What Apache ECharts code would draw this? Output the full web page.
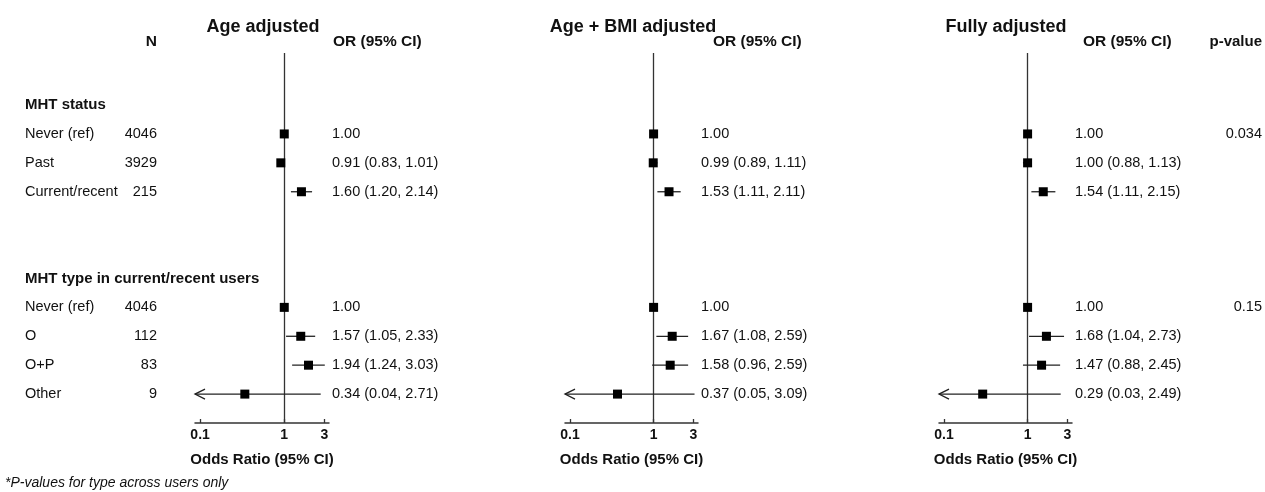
<!DOCTYPE html>
<html>
<head>
<meta charset="utf-8">
<script src="https://cdn.jsdelivr.net/npm/echarts@6/dist/echarts.min.js"></script>
<style>
html,body{margin:0;padding:0;background:#fff;}
#chart{width:1265px;height:492px;}
</style>
</head>
<body>
<div id="chart"></div>
<script>
// ---------- data ----------
const rowLabels = ['MHT status','Never (ref)','Past','Current/recent','','','MHT type in current/recent users','Never (ref)','O','O+P','Other'];
const headerRows = [true,false,false,false,false,false,true,false,false,false,false];
const nValues = [null,4046,3929,215,null,null,null,4046,112,83,9];

const panelTitles = ['Age adjusted','Age + BMI adjusted','Fully adjusted'];

const ageOR = [null,1.00,0.91,1.60,null,null,null,1.00,1.57,1.94,0.34];
const ageLo = [null,null,0.83,1.20,null,null,null,null,1.05,1.24,0.04];
const ageHi = [null,null,1.01,2.14,null,null,null,null,2.33,3.03,2.71];

const bmiOR = [null,1.00,0.99,1.53,null,null,null,1.00,1.67,1.58,0.37];
const bmiLo = [null,null,0.89,1.11,null,null,null,null,1.08,0.96,0.05];
const bmiHi = [null,null,1.11,2.11,null,null,null,null,2.59,2.59,3.09];

const fullOR = [null,1.00,1.00,1.54,null,null,null,1.00,1.68,1.47,0.29];
const fullLo = [null,null,0.88,1.11,null,null,null,null,1.04,0.88,0.03];
const fullHi = [null,null,1.13,2.15,null,null,null,null,2.73,2.45,2.49];

const pValues = [null,'0.034',null,null,null,null,null,'0.15',null,null,null];

const xTicks = [0.1, 1, 3];
const refValue = 1;
const axisTitle = 'Odds Ratio (95% CI)';
const headerN = 'N';
const headerOR = 'OR (95% CI)';
const headerP = 'p-value';
const footnote = '*P-values for type across users only';

// ---------- layout / style ----------
const FONT = "'Liberation Sans', Arial, sans-serif";
const X_MIN = 0.087, X_MAX = 3.4;
const Y_MIN = -1.8, Y_MAX = 11;
const grids = [
  {left:195, width:134, top:53, bottom:69},
  {left:565, width:133, top:53, bottom:69},
  {left:939, width:133, top:53, bottom:69}
];
const titleX = [263, 633, 1006];
const orHeaderX = [333, 713, 1083];
const panels = [
  {or: ageOR, lo: ageLo, hi: ageHi},
  {or: bmiOR, lo: bmiLo, hi: bmiHi},
  {or: fullOR, lo: fullLo, hi: fullHi}
];

function fmt(v){ return v.toFixed(2); }

function makeRender(p, k) {
  return function (params, api) {
    const i = params.dataIndex;
    const cs = params.coordSys;
    const children = [];
    const y = api.coord([refValue, i])[1];
    // row labels + N (first panel only)
    if (k === 0) {
      if (rowLabels[i]) {
        children.push({type:'text', style:{x:25, y:y, text:rowLabels[i], fill:'#111',
          font:(headerRows[i] ? 'bold 15px ' : '14.5px ') + FONT, verticalAlign:'middle', align:'left'}});
      }
      if (nValues[i] != null) {
        children.push({type:'text', style:{x:157, y:y, text:String(nValues[i]), fill:'#111',
          font:'14.5px ' + FONT, verticalAlign:'middle', align:'right'}});
      }
    }
    if (k === 2 && pValues[i] != null) {
      children.push({type:'text', style:{x:1262, y:y, text:pValues[i], fill:'#111',
        font:'14.5px ' + FONT, verticalAlign:'middle', align:'right'}});
    }
    const or = p.or[i];
    if (or != null) {
      const lo = p.lo[i], hi = p.hi[i];
      let txt = fmt(or);
      if (lo != null) {
        const clipped = lo < X_MIN;
        const x1 = clipped ? cs.x : api.coord([lo, i])[0];
        const x2 = api.coord([hi, i])[0];
        children.push({type:'line', shape:{x1:x1, y1:y, x2:x2, y2:y},
          style:{stroke:'#222', lineWidth:1.3}});
        if (clipped) {
          children.push({type:'polyline', shape:{points:[[x1+10, y-5],[x1, y],[x1+10, y+5]]},
            style:{stroke:'#222', fill:null, lineWidth:1.3}});
        }
        txt += ' (' + fmt(lo) + ', ' + fmt(hi) + ')';
      }
      const c = api.coord([or, i]);
      children.push({type:'rect', shape:{x:c[0]-4.5, y:y-4.5, width:9, height:9}, style:{fill:'#000'}});
      children.push({type:'text', style:{x:cs.x + cs.width + 3, y:y, text:txt, fill:'#111',
        font:'14.5px ' + FONT, verticalAlign:'middle', align:'left'}});
    }
    return {type:'group', children:children};
  };
}

const xAxes = grids.map((g, k) => ({
  type:'log', logBase:10, gridIndex:k, min:X_MIN, max:X_MAX, position:'bottom',
  axisLine:{show:true, onZero:false, lineStyle:{color:'#333', width:1.5}},
  axisTick:{show:true, inside:true, length:4, customValues:xTicks, lineStyle:{color:'#333', width:1.3}},
  axisLabel:{show:true, customValues:xTicks, margin:5, color:'#111', fontWeight:'bold', fontSize:14, fontFamily:FONT,
    formatter: v => String(+v.toPrecision(3))},
  splitLine:{show:false}, minorTick:{show:false},
  name:axisTitle, nameLocation:'middle', nameGap:29,
  nameTextStyle:{color:'#111', fontWeight:'bold', fontSize:15, fontFamily:FONT}
}));
const yAxes = grids.map((g, k) => ({
  type:'value', gridIndex:k, min:Y_MIN, max:Y_MAX, inverse:true, show:false
}));

const series = [];
panels.forEach((p, k) => {
  series.push({
    type:'line', xAxisIndex:k, yAxisIndex:k, data:[], silent:true, z:1,
    markLine:{silent:true, symbol:['none','none'], label:{show:false},
      lineStyle:{color:'#333', width:1.3, type:'solid'},
      data:[{xAxis:refValue}]}
  });
  series.push({
    type:'custom', xAxisIndex:k, yAxisIndex:k, z:5, silent:true,
    renderItem: makeRender(p, k),
    data: rowLabels.map((_, i) => [p.or[i] != null ? p.or[i] : refValue, i]),
    encode:{x:0, y:1}
  });
});

const graphics = [];
panelTitles.forEach((t, k) => {
  graphics.push({type:'text', x:titleX[k], y:27, style:{text:t, font:'bold 18px ' + FONT, fill:'#111', align:'center', verticalAlign:'middle'}});
  graphics.push({type:'text', x:orHeaderX[k], y:42, style:{text:headerOR, font:'bold 15.5px ' + FONT, fill:'#111', align:'left', verticalAlign:'middle'}});
});
graphics.push({type:'text', x:157, y:42, style:{text:headerN, font:'bold 15.5px ' + FONT, fill:'#111', align:'right', verticalAlign:'middle'}});
graphics.push({type:'text', x:1262, y:42, style:{text:headerP, font:'bold 15px ' + FONT, fill:'#111', align:'right', verticalAlign:'middle'}});
graphics.push({type:'text', x:5, y:483, style:{text:footnote, font:'italic 14px ' + FONT, fill:'#111', align:'left', verticalAlign:'middle'}});

const chart = echarts.init(document.getElementById('chart'), null, {renderer:'canvas'});
chart.setOption({
  animation:false,
  backgroundColor:'#fff',
  grid: grids,
  xAxis: xAxes,
  yAxis: yAxes,
  series: series,
  graphic: graphics
});
</script>
</body>
</html>
